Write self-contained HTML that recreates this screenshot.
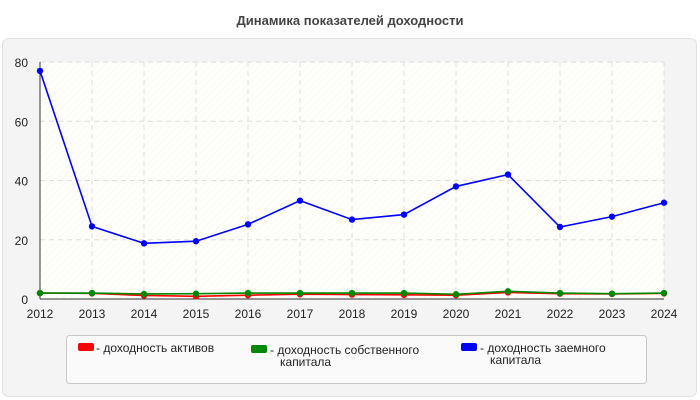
<!DOCTYPE html>
<html><head><meta charset="utf-8"><style>
body{margin:0;width:700px;height:400px;background:#fff;font-family:"Liberation Sans",sans-serif;overflow:hidden}
</style></head><body>
<svg width="700" height="400" style="position:absolute;left:0;top:0">
<defs><pattern id="hatch" width="5" height="5" patternUnits="userSpaceOnUse" patternTransform="rotate(45)"><rect width="5" height="5" fill="#fefefb"/><line x1="0" y1="0" x2="0" y2="5" stroke="#f4f4f0" stroke-width="1"/></pattern></defs>
<text x="350" y="25" text-anchor="middle" font-size="13" font-weight="bold" fill="#444">Динамика показателей доходности</text>
<rect x="2.5" y="38.5" width="694" height="358" rx="6" fill="#f4f4f4" stroke="#e2e2e2"/>
<rect x="40" y="62" width="624" height="237" fill="url(#hatch)"/>
<g id="grid"></g><g id="axes"></g><g id="series"></g>
<g>
<rect x="66.5" y="335.5" width="580" height="48" rx="3" fill="#fafafa" stroke="#c8c8c8"/>
<rect x="78" y="343" width="16" height="8" rx="2" fill="#f00"/>
<text x="96" y="352" font-size="12" fill="#222">- доходность активов</text>
<rect x="251" y="345" width="16" height="8" rx="2" fill="#080"/>
<text x="270" y="354" font-size="12" fill="#222">- доходность собственного</text>
<text x="280" y="366" font-size="12" fill="#222">капитала</text>
<rect x="461" y="343" width="16" height="8" rx="2" fill="#00f"/>
<text x="480" y="352" font-size="12" fill="#222">- доходность заемного</text>
<text x="490" y="364" font-size="12" fill="#222">капитала</text>
</g>
</svg>
<script>
const years=[2012,2013,2014,2015,2016,2017,2018,2019,2020,2021,2022,2023,2024];
const assets=[2,1.9,1.2,0.9,1.3,1.6,1.5,1.4,1.3,2.2,1.8,1.7,1.9];
const equity=[2,2,1.7,1.8,2,2,2,2,1.6,2.6,2,1.8,2];
const debt=[77,24.5,18.8,19.5,25.2,33.2,26.8,28.5,38,42,24.3,27.8,32.5];
const yTicks=[0,20,40,60,80];
const NS="http://www.w3.org/2000/svg";
const X=i=>40+i*(624/(years.length-1));
const Y=v=>299-v*237/80;
function mk(t,a,p){const e=document.createElementNS(NS,t);for(const k in a)e.setAttribute(k,a[k]);p.appendChild(e);return e;}
const grid=document.getElementById('grid'),axes=document.getElementById('axes'),ser=document.getElementById('series');
yTicks.forEach(v=>{
 if(v>0){const l=mk('line',{x1:40,x2:664,y1:Y(v),y2:Y(v),stroke:'#ddd','stroke-dasharray':'5,4'},grid);
 
 }
 const t=mk('text',{x:28,y:Y(v)+5,'text-anchor':'end','font-size':12,fill:'#222'},axes);t.textContent=v;
 
 
});
years.forEach((yr,i)=>{
 if(i>0){const l=mk('line',{x1:X(i),x2:X(i),y1:62,y2:299,stroke:'#ddd','stroke-dasharray':'5,4'},grid);
 
 }
 const t=mk('text',{x:X(i),y:318,'text-anchor':'middle','font-size':12,fill:'#222'},axes);t.textContent=yr;
 
 
});
const ya=mk('line',{x1:40,x2:40,y1:62,y2:299,stroke:'#333'},axes);


const xa=mk('line',{x1:40,x2:664,y1:299,y2:299,stroke:'#333'},axes);


[[assets,'#f00','assets'],[equity,'#080','equity'],[debt,'#00f','debt']].forEach(([d,c,n])=>{
 const p=mk('polyline',{points:d.map((v,i)=>X(i)+','+Y(v)).join(' '),fill:'none',stroke:c,'stroke-width':1.6},ser);
 
 
 d.forEach((v,i)=>{const m=mk('circle',{cx:X(i),cy:Y(v),r:3.2,fill:c},ser);
 
 });
});
</script>
</body></html>
